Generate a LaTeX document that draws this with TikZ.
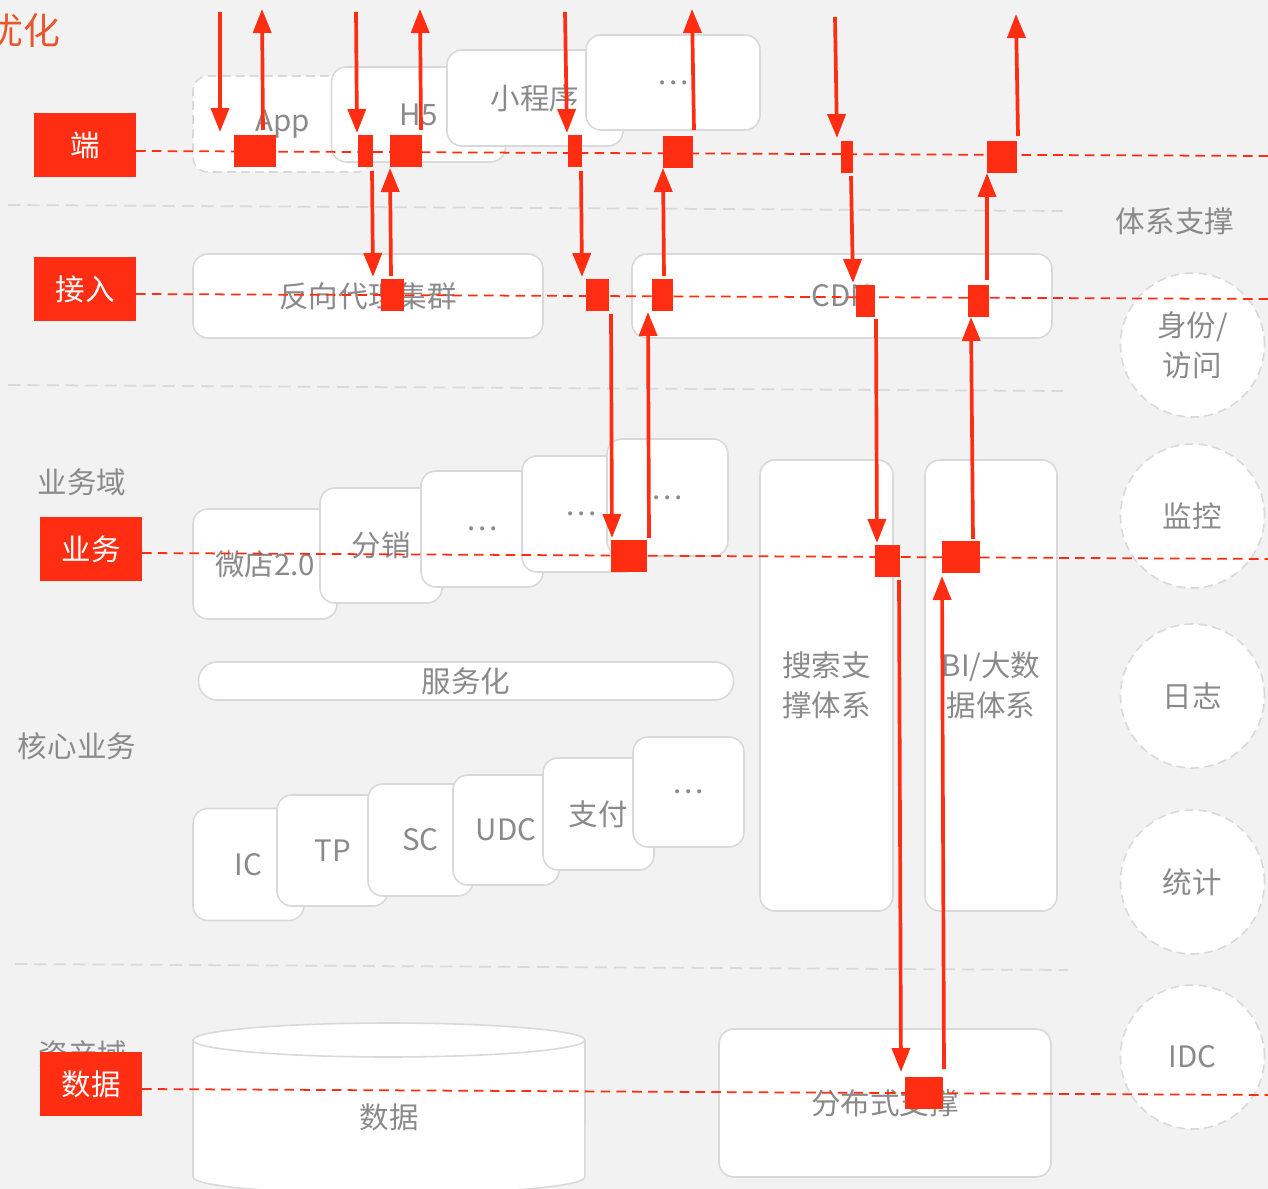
\documentclass[tikz,border=0pt]{standalone}
\usepackage{fontspec}
\setmainfont{Noto Sans CJK SC}
\usetikzlibrary{positioning}
\usetikzlibrary{arrows.meta}
\definecolor{myred}{RGB}{255,45,18}
\definecolor{myorange}{RGB}{232,86,44}
\definecolor{mygray}{RGB}{138,138,138}
\definecolor{myline}{RGB}{217,217,217}
\definecolor{mybg}{RGB}{242,242,242}
\newcommand{\boxfont}{\fontsize{16.8}{23}\selectfont}
\newcommand{\headfont}{\fontsize{21}{25}\selectfont}
\tikzset{
    wh/.style 2 args = {minimum width=#1*0.02cm, minimum height=#2*0.02cm},
    mybox/.style = {rectangle, rounded corners=0.3cm, draw=myline, line width=0.9pt, fill=white, inner sep=0pt, align=center, font=\boxfont, text=mygray},
    myboxd/.style = {mybox, dash pattern=on 5pt off 3pt},
    mybar/.style = {mybox, rounded corners=0.37cm},
    mycirc/.style = {circle, draw=myline, line width=0.9pt, dash pattern=on 5pt off 3pt, fill=white, inner sep=0pt, minimum size=144*0.02cm, align=center, font=\boxfont, text=mygray},
    mytag/.style = {rectangle, fill=myred, inner sep=0pt, minimum width=102*0.02cm, minimum height=64*0.02cm, font=\boxfont, text=white},
    mytext/.style = {inner sep=0pt, font=\boxfont, text=mygray},
    mysq/.style = {rectangle, fill=myred, inner sep=0pt},
    mybase/.style = {draw=myline, line width=0.9pt, fill=white},
    edgef/.style = {-{Triangle[length=0.48cm,width=0.36cm]}, line width=2.1pt, myred},
    edgerd/.style = {-, line width=1pt, myred, dash pattern=on 5.5pt off 3.5pt},
    edgegd/.style = {-, line width=1pt, myline, dash pattern=on 7pt off 4pt}
}

\begin{document}
\begin{tikzpicture}[x=0.02cm, y=-0.02cm]
  \useasboundingbox (0,0) rectangle (1268,1189);
  \clip (0,0) rectangle (1268,1189);
  \fill[mybg] (0,0) rectangle (1268,1189);
  % separators
  \draw[edgegd] (8,205) -- (1063,211);
  \draw[edgegd] (8,385) -- (1063,391);
  \draw[edgegd] (15,964) -- (1068,970);
  % headings
  \node[mytext, font=\headfont, text=myorange, anchor=east] (title) at (61,30) {优化};
  \node[mytext] (lyw) at (82,482) {业务域};
  \node[mytext] (lhx) at (77,746) {核心业务};
  \node[mytext] (lzc) at (83,1054) {资产域};
  \node[mytext] (ltx) at (1175,221) {体系支撑};
  % end
  \node[myboxd, wh={179}{96}] (app) at (282.5,124) {App};
  \node[mybox, wh={174}{95}] (hfive) at (418.5,114.5) {H5};
  \node[mybox, wh={176}{96}] (mini) at (535,98) {小程序};
  \node[mybox, wh={174}{95}] (more1) at (673,82.5) {…};
  % access
  \node[mybox, wh={350}{84}] (proxy) at (368,296) {反向代理集群};
  \node[mybox, wh={420}{84}] (cdn) at (842,296) {CDN};
  % business
  \node[mybox, wh={144}{110}] (wd) at (265,564) {微店2.0};
  \node[mybox, wh={122}{115}] (fx) at (381,545.5) {分销};
  \node[mybox, wh={122}{116}] (more2) at (482,529) {…};
  \node[mybox, wh={118}{116}] (more3) at (581,514) {…};
  \node[mybox, wh={121}{117}] (more4) at (667.5,497.5) {…};
  \node[mybar, wh={535}{38}] (svc) at (466,681) {服务化};
  % core
  \node[mybox, wh={111}{112}] (ic) at (248.5,864.5) {IC};
  \node[mybox, wh={111}{111}] (tp) at (332.5,850.5) {TP};
  \node[mybox, wh={105}{112}] (sc) at (420.5,840) {SC};
  \node[mybox, wh={106}{110}] (udc) at (506,830) {UDC};
  \node[mybox, wh={111}{112}] (pay) at (598.5,814) {支付};
  \node[mybox, wh={111}{110}] (more5) at (688.5,792) {…};
  \node[mybox, wh={133}{451}] (search) at (826.5,685.5) {搜索支\\撑体系};
  \node[mybox, wh={132}{451}] (bi) at (991,685.5) {BI/大数\\据体系};
  % data
  \filldraw[mybase] (193,1040) -- (193,1177)
    arc[start angle=180, end angle=360, x radius=3.92cm, y radius=0.34cm]
    -- (585,1040)
    arc[start angle=0, end angle=180, x radius=3.92cm, y radius=0.34cm] -- cycle;
  \draw[mybase, fill=none] (193,1040) arc[start angle=180, end angle=360, x radius=3.92cm, y radius=0.34cm];
  \node[mytext] (db) at (389,1117) {数据};
  \node[mybox, wh={332}{148}] (dist) at (885,1103) {分布式支撑};
  % support
  \node[mycirc] (auth) at (1192.5,345) {身份/\\访问};
  \node[mycirc] (mon) at (1192.5,516) {监控};
  \node[mycirc] (log) at (1192.5,696) {日志};
  \node[mycirc] (stat) at (1192.5,882) {统计};
  \node[mycirc] (idc) at (1192.5,1057) {IDC};
  % tags
  \node[mytag] (tagd) at (85,145) {端};
  \node[mytag] (tagj) at (85,289) {接入};
  \node[mytag] (tagy) at (91,549) {业务};
  \node[mytag] (tags) at (91,1084) {数据};
  % red lines
  \foreach \n/\xa/\ya/\yb in {1/136/151/156, 2/136/294/299, 3/142/553/559, 4/142/1089/1095} {
    \coordinate (la\n) at (\xa,\ya);
    \coordinate (lb\n) at (1268,\yb);
    \draw[edgerd] (la\n) -- (lb\n);
  }
  % squares
  \foreach \n/\x/\y/\w in {1/255/151/42, 2/365.5/151/15, 3/406/151/32, 4/575/151/14,
      5/678/152/30, 6/847/157/12, 7/1002/157/30, 8/392.5/295/23, 9/597.5/295/23,
      10/662.5/295/21, 11/865.5/301/19, 12/978.5/301/21, 13/629/556/36,
      14/887.5/561/25, 15/961/557/38, 16/924/1093/38} {
    \node[mysq, wh={\w}{32}] (q\n) at (\x,\y) {};
  }
  % arrows
  \foreach \n/\xa/\ya/\xb/\yb in {1/220/12/220/132, 2/263/130/262/9, 3/356/12/357/133,
      4/421/130/420/9, 5/565/12/567/133, 6/694/130/692/9, 7/835/17/837/138,
      8/1018/136/1016/14, 9/372/171/373/277, 10/391/276/390/168, 11/581/171/582/277,
      12/664/276/663/168, 13/851/176/853/283, 14/987/280/987/173, 15/611/314/612/538,
      16/649/538/648/312, 17/876/319/877/543, 18/973/539/971/317, 19/899/580/901/1072,
      20/944/1069/942/576} {
    \coordinate (s\n) at (\xa,\ya);
    \coordinate (t\n) at (\xb,\yb);
    \draw[edgef] (s\n) -- (t\n);
  }
\end{tikzpicture}
\end{document}
